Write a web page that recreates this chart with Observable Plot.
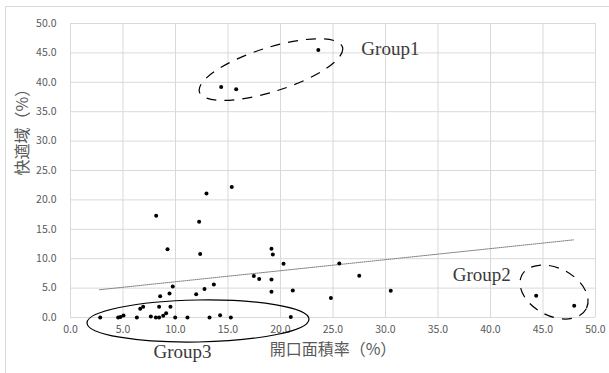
<!DOCTYPE html>
<html>
<head>
<meta charset="utf-8">
<script src="https://cdn.jsdelivr.net/npm/d3@7"></script>
<script src="https://cdn.jsdelivr.net/npm/@observablehq/plot@0.6"></script>
<style>
  html, body { margin: 0; padding: 0; background: #fff; }
  #wrap { position: relative; width: 609px; height: 373px; overflow: hidden; }
  #border { position: absolute; left: 5px; top: 6px; width: 700px; height: 700px; border: 1px solid #d9d9d9; pointer-events: none; }
</style>
</head>
<body>
<div id="wrap"><div id="border"></div></div>
<script>
// Data
const openingRatio = [8.16, 12.95, 15.36, 12.25, 9.24, 12.35, 19.14, 19.27, 20.29, 25.6, 17.46, 17.97, 19.14, 13.65, 9.74, 12.76, 19.14, 21.17, 9.43, 11.97, 8.54, 24.8, 6.92, 6.64, 8.44, 9.52, 9.11, 8.83, 5.05, 4.76, 4.54, 2.83, 6.32, 7.65, 8.13, 8.44, 9.97, 11.14, 13.24, 14.25, 15.27, 20.98, 27.5, 30.5, 44.35, 47.97, 23.6, 14.35, 15.78];
const comfortRatio = [17.3, 21.1, 22.2, 16.3, 11.6, 10.8, 11.7, 10.7, 9.14, 9.2, 7.04, 6.53, 6.47, 5.62, 5.28, 4.83, 4.38, 4.6, 4.09, 3.97, 3.63, 3.3, 1.82, 1.48, 1.82, 1.82, 0.73, 0.29, 0.34, 0.1, 0, 0, 0, 0.17, 0, 0, 0, 0, 0, 0.4, 0, 0.1, 7.1, 4.55, 3.7, 1.99, 45.5, 39.2, 38.8];
const trendX = [2.76, 47.9];
const trendY = [4.72, 13.2];
const xTicks = [0, 5, 10, 15, 20, 25, 30, 35, 40, 45, 50];
const yTicks = [0, 5, 10, 15, 20, 25, 30, 35, 40, 45, 50];
const groupNames = ["Group1", "Group2", "Group3"];
const groupLabelX = [27.7, 36.4, 7.9];
const groupLabelY = [45.6, 7.3, -5.8];
const ellipseCX = [19.14, 46.1, 12.19];
const ellipseCY = [42.08, 4.25, -0.68];
const ellipseRX = [7.14, 3.46, 10.57];   // semi-major, x units
const ellipseRY = [3.74, 4.06, 3.57];    // semi-minor, y units
const ellipseAngle = [-17.5, 27.5, -1];
const xTitle = "開口面積率（%）";
const yTitle = "快適域（%）";

const points = openingRatio.map((x, i) => ({x, y: comfortRatio[i]}));
const trend = trendX.map((x, i) => ({x, y: trendY[i]}));
const labels = groupNames.map((name, i) => ({name, x: groupLabelX[i], y: groupLabelY[i]}));
const ellipses = groupNames.map((name, i) => ({name, cx: ellipseCX[i], cy: ellipseCY[i], rx: ellipseRX[i], ry: ellipseRY[i], angle: ellipseAngle[i], dashed: i < 2}));

const ellipseMark = (index, scales) => {
  const g = d3.create("svg:g").attr("fill", "none").attr("stroke", "#000").attr("stroke-width", 1.2);
  for (const e of ellipses) {
    const cx = scales.x(e.cx), cy = scales.y(e.cy);
    const a = Math.abs(scales.x(e.rx) - scales.x(0));
    const b = Math.abs(scales.y(e.ry) - scales.y(0));
    const el = g.append("ellipse")
      .attr("cx", cx).attr("cy", cy).attr("rx", a).attr("ry", b)
      .attr("transform", `rotate(${e.angle} ${cx} ${cy})`);
    if (e.dashed) el.attr("stroke-dasharray", "10,8");
  }
  return g.node();
};

const chart = Plot.plot({
  width: 609,
  height: 373,
  marginLeft: 70,
  marginRight: 14,
  marginTop: 23,
  marginBottom: 56,
  style: {fontFamily: "'Noto Sans CJK JP', 'Noto Sans', sans-serif", fontSize: "10.5px", color: "#595959", background: "transparent", overflow: "visible"},
  x: {domain: [0, 50], ticks: xTicks, tickFormat: d => d.toFixed(1), tickSize: 0, tickPadding: 8, label: null},
  y: {domain: [0, 50], ticks: yTicks, tickFormat: d => d.toFixed(1), tickSize: 0, tickPadding: 14, label: null},
  marks: [
    Plot.ruleX(xTicks, {stroke: "#d9d9d9", strokeWidth: 1}),
    Plot.ruleY(yTicks, {stroke: "#d9d9d9", strokeWidth: 1}),
    Plot.line(trend, {x: "x", y: "y", stroke: "#7f7f7f", strokeWidth: 1, strokeDasharray: "1,1"}),
    Plot.dot(points, {x: "x", y: "y", r: 2, fill: "#000", stroke: "none"}),
    ellipseMark,
    Plot.text(labels, {x: "x", y: "y", text: "name", textAnchor: "start", lineAnchor: "middle", fontSize: 19, fontFamily: "'Liberation Serif', serif", fill: "#3a3a3a"}),
    Plot.text([xTitle], {frameAnchor: "bottom", dy: 37, fontSize: 16, fill: "#595959"}),
    Plot.text([yTitle], {frameAnchor: "left", dx: -48, dy: 5, rotate: -90, fontSize: 16, fill: "#595959"})
  ]
});
document.getElementById("wrap").prepend(chart);
</script>
</body>
</html>
